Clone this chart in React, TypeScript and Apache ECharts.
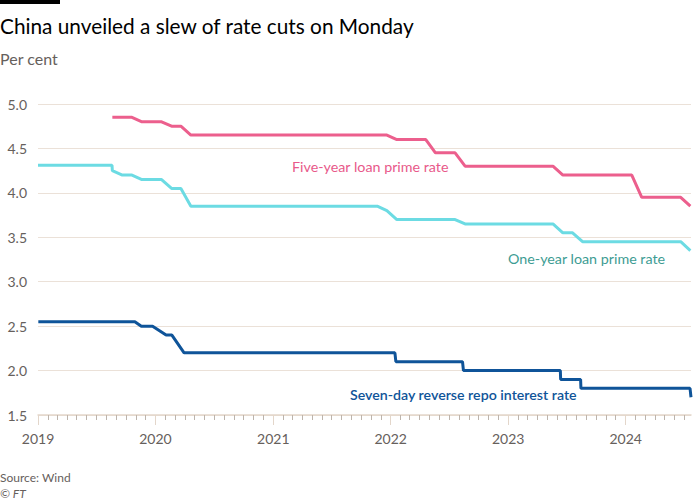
import React, { useEffect, useRef } from "react";
import * as echarts from "echarts";

// Tick labels
const yearTicks = [2019, 2020, 2021, 2022, 2023, 2024];
const axisStart = "2019-01-01";
const axisEnd = "2024-07-22";

// Old (pre-reform) one-year LPR
const oldLprDates = ["2019-01-01", "2019-08-19"];
const oldLprValues = [4.31, 4.31];

// Monthly LPR fixings (20th of each month), Aug 2019 - Jul 2024
const lprFirstMonth = "2019-08";
const oneYearLpr = [
  4.25, 4.2, 4.2, 4.15, 4.15,
  4.15, 4.05, 4.05, 3.85, 3.85, 3.85, 3.85, 3.85, 3.85, 3.85, 3.85, 3.85,
  3.85, 3.85, 3.85, 3.85, 3.85, 3.85, 3.85, 3.85, 3.85, 3.85, 3.85, 3.8,
  3.7, 3.7, 3.7, 3.7, 3.7, 3.7, 3.7, 3.65, 3.65, 3.65, 3.65, 3.65,
  3.65, 3.65, 3.65, 3.65, 3.65, 3.55, 3.55, 3.45, 3.45, 3.45, 3.45, 3.45,
  3.45, 3.45, 3.45, 3.45, 3.45, 3.45, 3.35,
];
const fiveYearLpr = [
  4.85, 4.85, 4.85, 4.8, 4.8,
  4.8, 4.75, 4.75, 4.65, 4.65, 4.65, 4.65, 4.65, 4.65, 4.65, 4.65, 4.65,
  4.65, 4.65, 4.65, 4.65, 4.65, 4.65, 4.65, 4.65, 4.65, 4.65, 4.65, 4.65,
  4.6, 4.6, 4.6, 4.6, 4.45, 4.45, 4.45, 4.3, 4.3, 4.3, 4.3, 4.3,
  4.3, 4.3, 4.3, 4.3, 4.3, 4.2, 4.2, 4.2, 4.2, 4.2, 4.2, 4.2,
  4.2, 3.95, 3.95, 3.95, 3.95, 3.95, 3.85,
];

// Seven-day reverse repo rate (operation dates)
const repoDates = [
  "2019-01-02", "2019-10-29", "2019-11-18", "2019-12-23", "2020-02-03",
  "2020-02-21", "2020-03-30", "2022-01-14", "2022-01-17", "2022-08-12",
  "2022-08-15", "2023-06-12", "2023-06-13", "2023-08-14", "2023-08-15",
  "2024-07-19", "2024-07-22",
];
const repoValues = [
  2.55, 2.55, 2.5, 2.5, 2.4,
  2.4, 2.2, 2.2, 2.1, 2.1,
  2.0, 2.0, 1.9, 1.9, 1.8,
  1.8, 1.7,
];

const FONT = "Lato, 'Noto Sans', sans-serif";

function toTs(s: string): number {
  const [y, m, d] = s.split("-").map(Number);
  return new Date(y, (m || 1) - 1, d || 1).getTime();
}

function lprDates(n: number): string[] {
  const [y0, m0] = lprFirstMonth.split("-").map(Number);
  const out: string[] = [];
  for (let i = 0; i < n; i++) {
    const idx = m0 - 1 + i;
    const y = y0 + Math.floor(idx / 12);
    const m = (idx % 12) + 1;
    out.push(`${y}-${String(m).padStart(2, "0")}-20`);
  }
  return out;
}

export default function App() {
  const ref = useRef<HTMLDivElement>(null);

  useEffect(() => {
    if (!ref.current) return;
    const chart = echarts.init(ref.current, null, { renderer: "svg" });
    const minTs = toTs(axisStart);
    const maxTs = toTs(axisEnd);
    const dates = lprDates(oneYearLpr.length);

    const oneYearData = [
      ...oldLprDates.map((d, i) => [toTs(d), oldLprValues[i]]),
      ...dates.map((d, i) => [toTs(d), oneYearLpr[i]]),
    ];
    const fiveYearData = dates.map((d, i) => [toTs(d), fiveYearLpr[i]]);
    const repoData = repoDates.map((d, i) => [toTs(d), repoValues[i]]);

    const majorTicks = yearTicks.map((y) => new Date(y, 0, 1).getTime());
    const minorTicks: number[] = [];
    for (const y of yearTicks) {
      for (let m = 1; m < 12; m++) {
        const t = new Date(y, m, 1).getTime();
        if (t <= maxTs) minorTicks.push(t);
      }
    }

    chart.setOption({
      animation: false,
      backgroundColor: "#ffffff",
      textStyle: { fontFamily: FONT },
      grid: {
        left: 38,
        right: 9,
        top: 104,
        bottom: 85,
        containLabel: false,
        outerBoundsMode: "none",
      },
      xAxis: [
        {
          type: "value",
          min: minTs,
          max: maxTs,
          scale: true,
          axisLine: { show: true, lineStyle: { color: "#e3d6ca", width: 1.5 } },
          axisTick: {
            show: true,
            length: 10,
            customValues: majorTicks,
            lineStyle: { color: "#e3d6ca", width: 1 },
          },
          axisLabel: {
            customValues: majorTicks,
            formatter: (v: number) => String(new Date(v).getFullYear()),
            color: "#66605c",
            fontSize: 14,
            fontFamily: FONT,
            margin: 16,
          },
          splitLine: { show: false },
        },
        {
          type: "value",
          min: minTs,
          max: maxTs,
          scale: true,
          position: "bottom",
          axisLine: { show: false },
          axisTick: {
            show: true,
            length: 5,
            customValues: minorTicks,
            lineStyle: { color: "#bdb4ac", width: 1 },
          },
          axisLabel: { show: false },
          splitLine: { show: false },
        },
      ],
      yAxis: {
        type: "value",
        min: 1.5,
        max: 5,
        interval: 0.5,
        axisLine: { show: false },
        axisTick: { show: false },
        axisLabel: {
          formatter: (v: number) => v.toFixed(1),
          color: "#66605c",
          fontSize: 14,
          fontFamily: FONT,
          margin: 11,
        },
        splitLine: { lineStyle: { color: "#ebe1d8", width: 1 } },
      },
      series: [
        {
          name: "Seven-day reverse repo interest rate",
          type: "line",
          data: repoData,
          showSymbol: false,
          symbol: "none",
          lineStyle: { color: "#0f5499", width: 3 },
          z: 3,
        },
        {
          name: "One-year loan prime rate",
          type: "line",
          data: oneYearData,
          showSymbol: false,
          symbol: "none",
          lineStyle: { color: "#6cdbe3", width: 3 },
          z: 3,
        },
        {
          name: "Five-year loan prime rate",
          type: "line",
          data: fiveYearData,
          showSymbol: false,
          symbol: "none",
          lineStyle: { color: "#ec5f8d", width: 3 },
          z: 3,
        },
      ],
      graphic: [
        { type: "rect", shape: { x: 0, y: 0, width: 60, height: 4 }, style: { fill: "#000" } },
        {
          type: "text",
          x: 0,
          y: 25,
          style: {
            text: "China unveiled a slew of rate cuts on Monday",
            font: `20.8px ${FONT}`,
            fill: "#000000",
            verticalAlign: "middle",
          },
        },
        {
          type: "text",
          x: 0,
          y: 58,
          style: { text: "Per cent", font: `16px ${FONT}`, fill: "#66605c", verticalAlign: "middle" },
        },
        {
          type: "text",
          x: 292,
          y: 166,
          style: { text: "Five-year loan prime rate", font: `14.3px ${FONT}`, fill: "#e8598a", verticalAlign: "middle" },
        },
        {
          type: "text",
          x: 508,
          y: 258,
          style: { text: "One-year loan prime rate", font: `14.3px ${FONT}`, fill: "#3d9c93", verticalAlign: "middle" },
        },
        {
          type: "text",
          x: 350,
          y: 394,
          style: {
            text: "Seven-day reverse repo interest rate",
            font: `600 14.2px ${FONT}`,
            fill: "#0f5499",
            verticalAlign: "middle",
          },
        },
        {
          type: "text",
          x: 0,
          y: 477,
          style: { text: "Source: Wind", font: `12px ${FONT}`, fill: "#66605c", verticalAlign: "middle" },
        },
        {
          type: "text",
          x: 0,
          y: 493,
          style: { text: "© FT", font: `italic 12px ${FONT}`, fill: "#66605c", verticalAlign: "middle" },
        },
      ],
    });
    return () => chart.dispose();
  }, []);

  return (
    <div
      ref={ref}
      style={{ position: "absolute", left: 0, top: 0, width: 700, height: 500 }}
    />
  );
}
